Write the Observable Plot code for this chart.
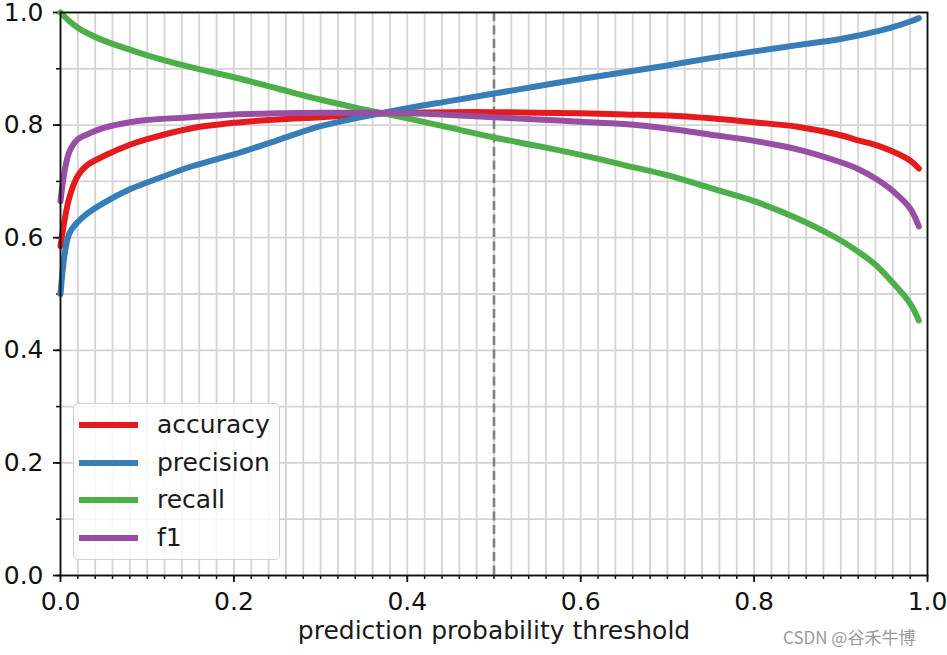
<!DOCTYPE html>
<html>
<head>
<meta charset="utf-8">
<script src="https://cdn.jsdelivr.net/npm/d3@7"></script>
<script src="https://cdn.jsdelivr.net/npm/@observablehq/plot@0.6"></script>
<style>
  html, body { margin: 0; padding: 0; background: #fff; }
  #wrap { position: relative; width: 947px; height: 655px; font-family: "DejaVu Sans", sans-serif; }
  #legend { position: absolute; left: 73px; top: 403px; width: 207px; height: 157px;
    background: rgba(255,255,255,0.8); border: 1.5px solid #d0d0d0; border-radius: 5px; box-sizing: border-box; }
  .row { position: absolute; left: 0; height: 30px; }
  .sw { position: absolute; left: 5px; width: 59px; height: 6px; }
  .lab { position: absolute; left: 83px; font-size: 25px; color: #1a1a1a; white-space: nowrap; line-height: 30px; top: -15px; }
  #wm { position: absolute; left: 783px; top: 624px; font-size: 17px; color: #9a9a9a; font-family: "Noto Sans CJK SC", "DejaVu Sans", sans-serif; white-space: nowrap; }
</style>
</head>
<body>
<div id="wrap"></div>
<script>
// ---- data ----
const thresholds = [0, 0.01, 0.02, 0.03, 0.05, 0.08, 0.1, 0.15, 0.2, 0.25, 0.3, 0.35, 0.4, 0.45, 0.5, 0.55, 0.6, 0.65, 0.7, 0.75, 0.8, 0.85, 0.9, 0.92, 0.94, 0.96, 0.98, 0.99];
const accuracy  = [0.585, 0.67, 0.71, 0.728, 0.745, 0.765, 0.775, 0.794, 0.804, 0.81, 0.814, 0.819, 0.822, 0.823, 0.823, 0.822, 0.821, 0.819, 0.817, 0.812, 0.805, 0.797, 0.782, 0.773, 0.765, 0.753, 0.737, 0.723];
const precision = [0.5, 0.607, 0.628, 0.642, 0.662, 0.686, 0.698, 0.726, 0.748, 0.773, 0.798, 0.815, 0.83, 0.843, 0.856, 0.869, 0.882, 0.894, 0.906, 0.919, 0.931, 0.942, 0.953, 0.959, 0.966, 0.974, 0.984, 0.99];
const recall    = [1.0, 0.985, 0.973, 0.964, 0.95, 0.934, 0.924, 0.903, 0.885, 0.865, 0.845, 0.828, 0.812, 0.795, 0.778, 0.763, 0.747, 0.729, 0.711, 0.688, 0.665, 0.634, 0.595, 0.575, 0.552, 0.52, 0.483, 0.453];
const f1        = [0.665, 0.752, 0.775, 0.783, 0.795, 0.805, 0.809, 0.814, 0.819, 0.821, 0.822, 0.822, 0.821, 0.818, 0.814, 0.81, 0.806, 0.802, 0.794, 0.783, 0.772, 0.757, 0.734, 0.722, 0.705, 0.683, 0.652, 0.62];
const seriesNames = ["accuracy", "precision", "recall", "f1"];
const seriesColors = ["#e41a1c", "#377eb8", "#4daf4a", "#984ea3"];
const xMajor = [0, 0.2, 0.4, 0.6, 0.8, 1.0];
const xMinor = d3.range(0, 51).map(i => i / 50);
const yMajor = [0, 0.2, 0.4, 0.6, 0.8, 1.0];
const yMinor = d3.range(0, 11).map(i => i / 10);
const cutoff = [0.5];
const xLabel = "prediction probability threshold";

const seriesValues = [accuracy, precision, recall, f1];
const rows = [];
seriesNames.forEach((name, k) => thresholds.forEach((t, i) => rows.push({t, v: seriesValues[k][i], name})));

const chart = Plot.plot({
  width: 947,
  height: 655,
  marginLeft: 60,
  marginRight: 20,
  marginTop: 12,
  marginBottom: 80,
  style: { fontFamily: "DejaVu Sans, sans-serif", fontSize: "25px", color: "#111", background: "#fff", overflow: "visible" },
  x: { domain: [0, 1] },
  y: { domain: [0, 1] },
  color: { domain: seriesNames, range: seriesColors },
  marks: [
    Plot.gridX(xMinor, { stroke: "#d4d4d4", strokeOpacity: 1, strokeWidth: 1.8 }),
    Plot.gridY(yMinor, { stroke: "#d4d4d4", strokeOpacity: 1, strokeWidth: 1.8 }),
    Plot.axisX(xMinor, { tickSize: 4, tickFormat: () => "", stroke: "#111", strokeWidth: 1.5, label: null }),
    Plot.axisX(xMajor, { tickSize: 7, tickPadding: 10, tickFormat: d => d.toFixed(1), stroke: "#111", strokeWidth: 1.8, label: null, fontSize: 25 }),
    Plot.axisY(yMinor, { tickSize: 4, tickFormat: () => "", stroke: "#111", strokeWidth: 1.5, label: null }),
    Plot.axisY(yMajor, { tickSize: 7, tickPadding: 10, tickFormat: d => d.toFixed(1), stroke: "#111", strokeWidth: 1.8, label: null, fontSize: 25 }),
    Plot.ruleX(cutoff, { stroke: "#808080", strokeWidth: 2.6, strokeDasharray: "9,4.5" }),
    Plot.line(rows, { x: "t", y: "v", z: "name", stroke: "name", strokeWidth: 6, curve: "catmull-rom" }),
    Plot.frame({ stroke: "#111", strokeWidth: 1.8 }),
    Plot.text([xLabel], { text: d => d, frameAnchor: "bottom", dy: 63, fontSize: 25, fill: "#1a1a1a" })
  ]
});

const wrap = document.getElementById("wrap");
wrap.appendChild(chart);

const legend = document.createElement("div");
legend.id = "legend";
seriesNames.forEach((name, i) => {
  const row = document.createElement("div");
  row.className = "row";
  row.style.top = (21 + i * 37.7) + "px";
  const sw = document.createElement("div");
  sw.className = "sw";
  sw.style.background = seriesColors[i];
  sw.style.top = "-3px";
  const lab = document.createElement("div");
  lab.className = "lab";
  lab.textContent = name;
  row.appendChild(sw);
  row.appendChild(lab);
  legend.appendChild(row);
});
wrap.appendChild(legend);

const wm = document.createElement("div");
wm.id = "wm";
wm.textContent = "CSDN @谷禾牛博";
wrap.appendChild(wm);
</script>
</body>
</html>
